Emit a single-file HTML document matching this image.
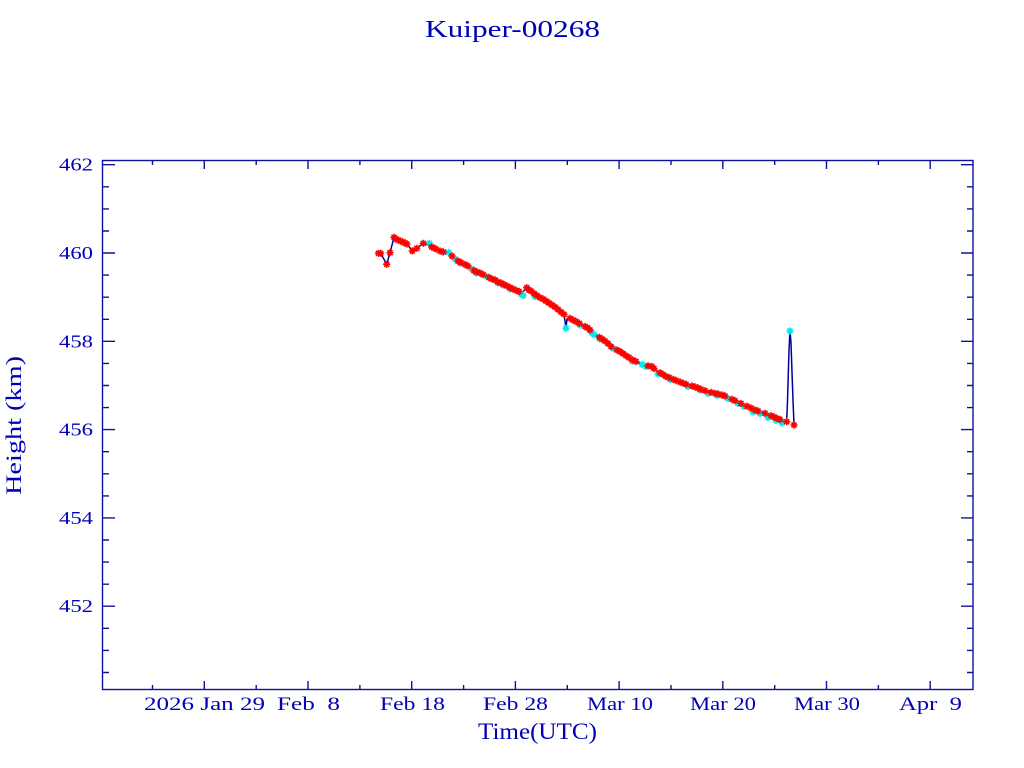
<!DOCTYPE html>
<html>
<head>
<meta charset="utf-8">
<style>
  html,body{margin:0;padding:0;background:#fff;}
  svg{display:block;}
  text{font-family:"Liberation Serif",serif;fill:#0000b4;white-space:pre;}
</style>
</head>
<body>
<svg width="1024" height="768" viewBox="0 0 1024 768" xmlns="http://www.w3.org/2000/svg">
  <defs>
    <marker id="rs" markerUnits="userSpaceOnUse" markerWidth="12" markerHeight="12" refX="6" refY="6" overflow="visible">
      <path d="M2.4 6H9.6M6 2.4V9.6M3.5 3.5L8.5 8.5M8.5 3.5L3.5 8.5" stroke="#ff0000" stroke-width="1.6" fill="none"/>
    </marker>
    <marker id="cs" markerUnits="userSpaceOnUse" markerWidth="12" markerHeight="12" refX="6" refY="6" overflow="visible">
      <path d="M2.4 6H9.6M6 2.4V9.6M3.5 3.5L8.5 8.5M8.5 3.5L3.5 8.5" stroke="#00e8f0" stroke-width="1.6" fill="none"/>
    </marker>
  </defs>

  <rect width="1024" height="768" fill="#fff"/>

  <!-- Title -->
  <text x="425" y="37" font-size="24" textLength="175" lengthAdjust="spacingAndGlyphs">Kuiper-00268</text>

  <!-- Axis box -->
  <rect x="102.5" y="160.5" width="870.5" height="529" fill="none" stroke="#10109a" stroke-width="1.4"/>

  <!-- Ticks -->
  <g stroke="#10109a" stroke-width="1.4">
    <path d="M102 164.7H115M102 253H115M102 341.3H115M102 429.6H115M102 517.9H115M102 606.2H115"/>
    <path d="M973 164.7H961M973 253H961M973 341.3H961M973 429.6H961M973 517.9H961M973 606.2H961"/>
    <path d="M102 186.8H109M102 208.9H109M102 231H109M102 275.1H109M102 297.2H109M102 319.3H109M102 363.4H109M102 385.5H109M102 407.6H109M102 451.7H109M102 473.8H109M102 495.9H109M102 540H109M102 562.1H109M102 584.2H109M102 628.3H109M102 650.4H109M102 672.5H109"/>
    <path d="M973 186.8H967M973 208.9H967M973 231H967M973 275.1H967M973 297.2H967M973 319.3H967M973 363.4H967M973 385.5H967M973 407.6H967M973 451.7H967M973 473.8H967M973 495.9H967M973 540H967M973 562.1H967M973 584.2H967M973 628.3H967M973 650.4H967M973 672.5H967"/>
    <path d="M204.3 689V681M308 689V681M411.7 689V681M515.4 689V681M619.1 689V681M722.8 689V681M826.5 689V681M930.2 689V681"/>
    <path d="M152.5 689V685M256.2 689V685M359.9 689V685M463.6 689V685M567.3 689V685M671 689V685M774.7 689V685M878.4 689V685"/>
    <path d="M204.3 160V169M308 160V169M411.7 160V169M515.4 160V169M619.1 160V169M722.8 160V169M826.5 160V169M930.2 160V169"/>
    <path d="M152.5 160V165M256.2 160V165M359.9 160V165M463.6 160V165M567.3 160V165M671 160V165M774.7 160V165M878.4 160V165"/>
  </g>

  <!-- Y labels -->
  <g font-size="18">
    <text x="59" y="170.7" textLength="34" lengthAdjust="spacingAndGlyphs">462</text>
    <text x="59" y="259" textLength="34" lengthAdjust="spacingAndGlyphs">460</text>
    <text x="59" y="347.3" textLength="34" lengthAdjust="spacingAndGlyphs">458</text>
    <text x="59" y="435.6" textLength="34" lengthAdjust="spacingAndGlyphs">456</text>
    <text x="59" y="523.9" textLength="34" lengthAdjust="spacingAndGlyphs">454</text>
    <text x="59" y="612.2" textLength="34" lengthAdjust="spacingAndGlyphs">452</text>
  </g>

  <!-- X labels -->
  <g font-size="19">
    <text x="144" y="710" textLength="121" lengthAdjust="spacingAndGlyphs">2026 Jan 29</text>
    <text x="277" y="710" textLength="63" lengthAdjust="spacingAndGlyphs">Feb  8</text>
    <text x="380" y="710" textLength="65" lengthAdjust="spacingAndGlyphs">Feb 18</text>
    <text x="483" y="710" textLength="65" lengthAdjust="spacingAndGlyphs">Feb 28</text>
    <text x="587" y="710" textLength="66" lengthAdjust="spacingAndGlyphs">Mar 10</text>
    <text x="690" y="710" textLength="66" lengthAdjust="spacingAndGlyphs">Mar 20</text>
    <text x="794" y="710" textLength="66" lengthAdjust="spacingAndGlyphs">Mar 30</text>
    <text x="899" y="710" textLength="63" lengthAdjust="spacingAndGlyphs">Apr  9</text>
  </g>

  <!-- Axis titles -->
  <text x="478" y="739" font-size="23" textLength="119" lengthAdjust="spacingAndGlyphs">Time(UTC)</text>
  <text transform="translate(21,495) rotate(-90)" x="0" y="0" font-size="22" textLength="139" lengthAdjust="spacingAndGlyphs">Height (km)</text>

  <!-- Data line (navy) -->
  <polyline fill="none" stroke="#0000a0" stroke-width="1.5" stroke-linejoin="round" points="380.7,253.3 386.7,264.3 390,252.7 394,237.3 396,239 398,240 400.5,241 403,242 405,243 407,244 412.3,251 416.7,248.3 423.3,243.3 426,244 431.7,247 434,248 436,249 440,251 443.3,252 448.7,253 452,256 455,259 458,261 461,262.5 465,264.5 468,266 471,268 474,270.5 477,272 480,273 483,274.5 486,276 489,277.5 492,279 495,280 498,282 501,283 504,284.5 507,286 510,287.5 513,289 516,290.3 519,291.5 522,293 526.7,287.7 529,290 531,291 534,293.5 537,295.5 540,297.7 543,299 546,301 549,303 552,305 555,307 558,309.5 561,312 564,314.3 566,328 567,319 570,318.3 573,320 576,321.5 579.3,323.3 582,325 585,326.5 587.3,327.7 590,330 593,332.5 596,335 599.3,337.3 602,339 605,341 608,343.5 611,346.5 614,348.5 617,350 620,351.5 623,353.5 626,355.7 629,357.5 632.7,360 636,361.5 640,363.5 644,365 648,365.8 651.7,366.5 654,368.5 657,371 660,372.7 663,374.5 666,376.5 669,377.5 673.3,379.3 676,380.5 680,382 683.3,383.3 686,384.2 689,385 692,386 695,387 698,388 701,389.3 705,390.7 708,391.5 711,392.3 715,393.3 718,394 722,395 725,396 728,397.5 732,399.3 735,400.7 738,402 741,403.5 744,405 747,406.2 751,408 755,410 758,411 761,412 765,413.3 768,414.5 771,415.7 774,417 777,418.3 780,419.5 783,420.5 786.7,421.7 787.5,401 789,350 790,331 791,343 792,372 793,400 794,425"/>

  <!-- Cyan markers -->
  <polyline fill="none" stroke="none" marker-start="url(#cs)" marker-mid="url(#cs)" marker-end="url(#cs)" points="429.3,243.3 448.7,252.5 455,259 460,263 471.7,269 476,273 486.7,276.5 498,283 503,285 510,289 521,294 523.3,295.5 535,296.5 566,328.3 580,325 592,333 594.3,334.8 600,339 613.3,348.5 632,361 642,364.5 646,366.5 658,374 670,379.5 688,386.5 700,390 708,393.5 717,395.5 728,398.5 738,403.5 744,406.5 753,412 760,413.5 768,417.5 776,420.5 782,423 790,331"/>

  <!-- Red markers -->
  <polyline fill="none" stroke="none" marker-start="url(#rs)" marker-mid="url(#rs)" marker-end="url(#rs)" points="378.5,253.3 380.7,253.3 386.7,264.3 390,252.7 394,237.3 396,239 398,240 400.5,241 403,242 405,243 407,244 412.3,251 416.7,248.3 423.3,243.3 431.7,247 434,248 436,249 440,251 443.3,252 452,256 458,261 461,262.5 465,264.5 468,266 474,270.5 477,272 480,273 483,274.5 489,277.5 492,279 495,280 498,282 501,283 504,284.5 507,286 510,287.5 513,289 516,290.3 519,291.5 526.7,287.7 529,290 531,291 534,293.5 537,295.5 540,297.7 543,299 546,301 549,303 552,305 555,307 558,309.5 561,312 564,314.3 570,318.3 573,320 576,321.5 579.3,323.3 585,326.5 587.3,327.7 590,330 599.3,337.3 602,339 605,341 608,343.5 611,346.5 617,350 620,351.5 623,353.5 626,355.7 629,357.5 632.7,360 636,361.5 648,365.8 651.7,366.5 654,368.5 660,372.7 663,374.5 666,376.5 669,377.5 673.3,379.3 676,380.5 680,382 683.3,383.3 686,384.2 692,386 695,387 698,388 701,389.3 705,390.7 711,392.3 715,393.3 718,394 722,395 725,396 732,399.3 735,400.7 741,403.5 747,406.2 751,408 755,410 758,411 765,413.3 771,415.7 774,417 777,418.3 780,419.5 786.7,421.7 794,425"/>
</svg>
</body>
</html>
